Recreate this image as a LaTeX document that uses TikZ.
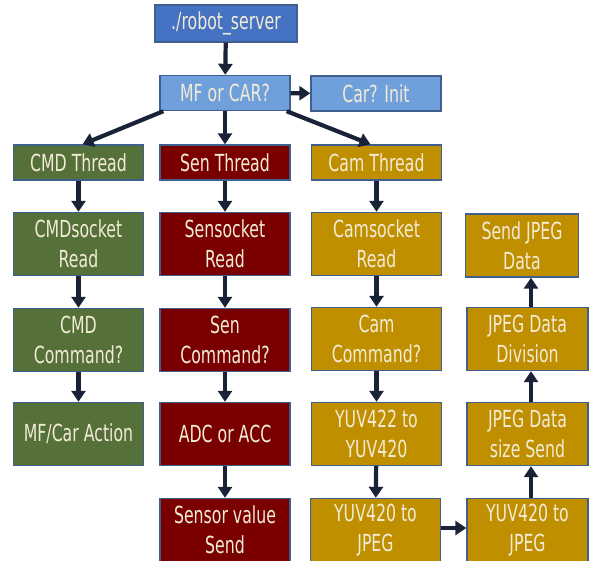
\documentclass[tikz,border=0pt]{standalone}
\usepackage{fontspec}
\setmainfont[FakeStretch=0.67]{DejaVu Sans}
\usepackage{tikz}
\usetikzlibrary{arrows.meta}
\usetikzlibrary{positioning}

\begin{document}
\begin{tikzpicture}[x=1pt, y=-1pt]
                \definecolor{srvblue}{RGB}{70,114,196}
                \definecolor{askblue}{RGB}{111,160,220}
                \definecolor{cmdgreen}{RGB}{86,112,58}
                \definecolor{senred}{RGB}{122,0,0}
                \definecolor{camgold}{RGB}{191,143,0}
                \definecolor{edgeblue}{RGB}{63,95,143}
                \definecolor{labeltext}{RGB}{242,235,213}
                \definecolor{arrowdark}{RGB}{26,34,56}

                \tikzset{
                    box/.style={draw=edgeblue, line width=1.4pt, text=labeltext, align=center,
                        minimum width=130pt, minimum height=35pt, inner sep=0pt,
                        font=\fontsize{23.5}{30}\selectfont},
                    tall/.style={minimum height=63pt},
                    narrow/.style={minimum width=121pt},
                    flow/.style={draw=arrowdark, line width=4.2pt,
                        -{Triangle[width=14pt,length=11pt]}}
                }

                \useasboundingbox (0,0) rectangle (589,561);

                % top
                \node[box, fill=srvblue, minimum width=142pt, minimum height=37pt] (srv) at (226,23.5) {./robot\_server};
                \node[box, fill=askblue] (mfcar) at (225,93) {MF or CAR?};
                \node[box, fill=askblue] (carinit) at (376,93.5) {Car? Init};

                % CMD column
                \node[box, fill=cmdgreen] (cmdth) at (78.5,162.5) {CMD Thread};
                \node[box, tall, fill=cmdgreen] (cmdrd) at (78.5,244) {CMDsocket\\Read};
                \node[box, tall, fill=cmdgreen] (cmdask) at (78.5,340) {CMD\\Command?};
                \node[box, tall, fill=cmdgreen] (cmdact) at (78.5,434) {MF/Car Action};

                % Sen column
                \node[box, fill=senred] (senth) at (225,162.5) {Sen Thread};
                \node[box, tall, fill=senred] (senrd) at (225,244) {Sensocket\\Read};
                \node[box, tall, fill=senred] (senask) at (225,340) {Sen\\Command?};
                \node[box, tall, fill=senred] (adc) at (225,434) {ADC or ACC};
                \node[box, tall, fill=senred] (senval) at (225,530) {Sensor value\\Send};

                % Cam column
                \node[box, fill=camgold] (camth) at (376.5,162.5) {Cam Thread};
                \node[box, tall, fill=camgold] (camrd) at (376.5,244) {Camsocket\\Read};
                \node[box, tall, fill=camgold] (camask) at (376.5,339) {Cam\\Command?};
                \node[box, tall, fill=camgold] (yuvconv) at (376.5,434) {YUV422 to\\YUV420};
                \node[box, tall, fill=camgold] (jpegA) at (375.5,530) {YUV420 to\\JPEG};

                % JPEG column
                \node[box, tall, narrow, fill=camgold] (jpegB) at (527.5,530) {YUV420 to\\JPEG};
                \node[box, tall, narrow, fill=camgold] (jsize) at (527.5,434) {JPEG Data\\size Send};
                \node[box, tall, narrow, fill=camgold] (jdiv) at (527.5,339) {JPEG Data\\Division};
                \node[box, tall, fill=camgold, minimum width=113pt] (jsend) at (522,245.5) {Send JPEG\\Data};

                \draw[flow] (srv) -- (mfcar);
                \draw[flow] (mfcar) -- (carinit);
                \draw[flow] ([xshift=4pt]mfcar.south west) -- ([xshift=4pt]cmdth.north);
                \draw[flow] (mfcar) -- (senth);
                \draw[flow] ([xshift=-4pt]mfcar.south east) -- ([xshift=-6pt]camth.north);

                \draw[flow] (cmdth) -- (cmdrd);
                \draw[flow] (cmdrd) -- (cmdask);
                \draw[flow] (cmdask) -- (cmdact);

                \draw[flow] (senth) -- (senrd);
                \draw[flow] (senrd) -- (senask);
                \draw[flow] (senask) -- (adc);
                \draw[flow] (adc) -- (senval);

                \draw[flow] (camth) -- (camrd);
                \draw[flow] (camrd) -- (camask);
                \draw[flow] (camask) -- (yuvconv);
                \draw[flow] (yuvconv) -- (jpegA);
                \draw[flow] (jpegA.east |- 0,528) -- (jpegB.west |- 0,528);

                \draw[flow] (jpegB.north -| 531,0) -- (jsize.south -| 531,0);
                \draw[flow] (jsize.north -| 531,0) -- (jdiv.south -| 531,0);
                \draw[flow] (jdiv.north -| 531,0) -- (jsend.south -| 531,0);
            \end{tikzpicture}
\end{document}
